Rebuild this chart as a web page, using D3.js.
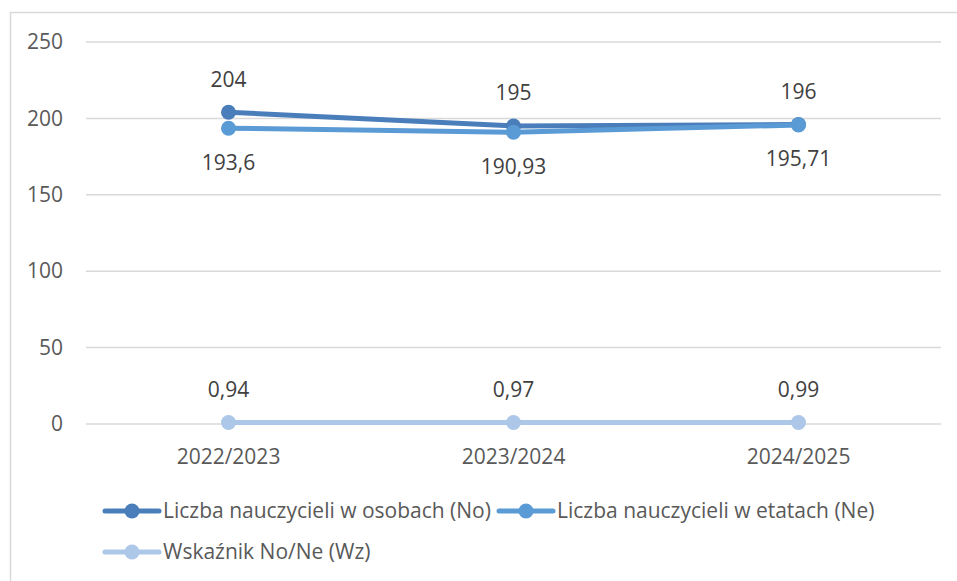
<!DOCTYPE html>
<html>
<head>
<meta charset="utf-8">
<script src="https://cdn.jsdelivr.net/npm/d3@7"></script>
<style>
  body { margin: 0; background: #fff; }
  svg { font-family: "Open Sans", "Liberation Sans", sans-serif; }
</style>
</head>
<body>
<div id="chart"></div>
<script>
var years = ["2022/2023", "2023/2024", "2024/2025"];
var osoby = [204, 195, 196];
var etaty = [193.6, 190.93, 195.71];
var wskaznik = [0.94, 0.97, 0.99];
var yTicks = [0, 50, 100, 150, 200, 250];
var seriesNames = ["Liczba nauczycieli w osobach (No)", "Liczba nauczycieli w etatach (Ne)", "Wskaźnik No/Ne (Wz)"];

var width = 957, height = 581;
var plotLeft = 86, plotRight = 941, plotTop = 42, plotBottom = 424;
var fontSize = "21px";

var svg = d3.select("#chart").append("svg")
  .attr("width", width)
  .attr("height", height);

// outer border
svg.append("rect")
  .attr("x", 10.5).attr("y", 12.5)
  .attr("width", 980).attr("height", 600)
  .attr("fill", "none")
  .attr("stroke", "#d9d9d9")
  .attr("stroke-width", 1.5);

var x = d3.scaleBand().domain(years).range([plotLeft, plotRight]);
var y = d3.scaleLinear().domain([0, 250]).range([plotBottom, plotTop]);

// gridlines
svg.selectAll(".grid")
  .data(yTicks)
  .enter().append("line")
  .attr("x1", plotLeft).attr("x2", plotRight)
  .attr("y1", function(d) { return y(d); })
  .attr("y2", function(d) { return y(d); })
  .attr("stroke", "#d9d9d9")
  .attr("stroke-width", 1.5);

// y axis labels
var yAxis = d3.axisLeft(y).tickValues(yTicks).tickSize(0).tickPadding(0);
var ya = svg.append("g").attr("transform", "translate(63,0)").call(yAxis);
ya.select(".domain").remove();
ya.selectAll("text")
  .attr("fill", "#595959")
  .style("font-size", fontSize)
  .style("font-family", "'Open Sans', sans-serif");

// x axis labels
var xAxis = d3.axisBottom(x).tickSize(0).tickPadding(0);
var xa = svg.append("g").attr("transform", "translate(0," + (plotBottom + 25) + ")").call(xAxis);
xa.select(".domain").remove();
xa.selectAll("text")
  .attr("fill", "#595959")
  .style("font-size", fontSize)
  .style("font-family", "'Open Sans', sans-serif");

var cx = function(i) { return x(years[i]) + x.bandwidth() / 2; };
var fmt = function(v) { return String(v).replace(".", ","); };

var series = [
  { name: seriesNames[0], values: osoby, color: "#4a7ebb", dy: -33 },
  { name: seriesNames[1], values: etaty, color: "#5b9bd5", dy: 34 },
  { name: seriesNames[2], values: wskaznik, color: "#adc7e8", dy: -33 }
];

var line = d3.line()
  .x(function(d, i) { return cx(i); })
  .y(function(d) { return y(d); });

series.forEach(function(s) {
  svg.append("path")
    .attr("d", line(s.values))
    .attr("fill", "none")
    .attr("stroke", s.color)
    .attr("stroke-width", 5)
    .attr("stroke-linecap", "round");
  svg.selectAll(null)
    .data(s.values)
    .enter().append("circle")
    .attr("cx", function(d, i) { return cx(i); })
    .attr("cy", function(d) { return y(d); })
    .attr("r", 7.5)
    .attr("fill", s.color);
});

// data labels
series.forEach(function(s) {
  svg.selectAll(null)
    .data(s.values)
    .enter().append("text")
    .attr("x", function(d, i) { return cx(i); })
    .attr("y", function(d) { return y(d) + s.dy; })
    .attr("dy", "0.35em")
    .attr("text-anchor", "middle")
    .attr("fill", "#404040")
    .style("font-size", fontSize)
    .text(function(d) { return fmt(d); });
});

// legend
var legendPos = [
  { x: 103, y: 511 },
  { x: 497, y: 511 },
  { x: 103, y: 552 }
];
series.forEach(function(s, i) {
  var g = svg.append("g").attr("transform", "translate(" + legendPos[i].x + "," + legendPos[i].y + ")");
  g.append("line")
    .attr("x1", 2).attr("x2", 56)
    .attr("stroke", s.color)
    .attr("stroke-width", 5)
    .attr("stroke-linecap", "round");
  g.append("circle").attr("cx", 29).attr("r", 7.5).attr("fill", s.color);
  g.append("text")
    .attr("x", 60)
    .attr("dy", "0.35em")
    .attr("fill", "#595959")
    .style("font-size", fontSize)
    .text(s.name);
});
</script>
</body>
</html>
